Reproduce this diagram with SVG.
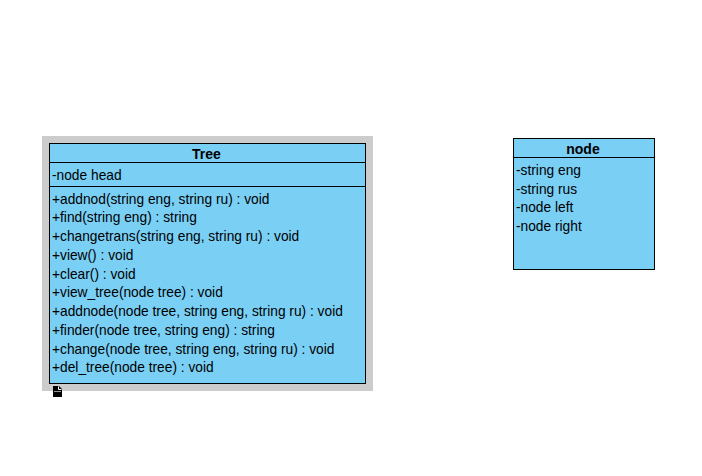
<svg xmlns="http://www.w3.org/2000/svg" width="702" height="476" viewBox="0 0 702 476">
<style>
.box{fill:#7ACFF5;stroke:#000;stroke-width:1}
.sep{stroke:#000;stroke-width:1}
text{font-family:"Liberation Sans",Arial,sans-serif;font-size:13.75px;fill:#000}
.title{font-weight:bold;text-anchor:middle;font-size:14px}
</style>
<rect width="702" height="476" fill="#fff"/>
<g id="Tree">
<rect x="42" y="136" width="331" height="255" fill="#CCCCCC"/>
<rect class="box" x="49.500" y="143.500" width="316" height="240"/>
<line class="sep" x1="49.500" y1="162.500" x2="365.500" y2="162.500"/>
<line class="sep" x1="49.500" y1="186.500" x2="365.500" y2="186.500"/>
<text class="title" x="206.500" y="159">Tree</text>
<text x="52" y="180">-node head</text>
<text x="52" y="204">+addnod(string eng, string ru) : void</text>
<text x="52" y="222">+find(string eng) : string</text>
<text x="52" y="241">+changetrans(string eng, string ru) : void</text>
<text x="52" y="260">+view() : void</text>
<text x="52" y="279">+clear() : void</text>
<text x="52" y="297">+view_tree(node tree) : void</text>
<text x="52" y="316">+addnode(node tree, string eng, string ru) : void</text>
<text x="52" y="335">+finder(node tree, string eng) : string</text>
<text x="52" y="354">+change(node tree, string eng, string ru) : void</text>
<text x="52" y="372">+del_tree(node tree) : void</text>
<path d="M53 386h6l3 3v8h-9z" fill="#000"/>
<path d="M58.500 386.500v3h3" fill="none" stroke="#fff" stroke-width="1"/>
<path d="M54 391.500h7" fill="none" stroke="#fff" stroke-width="0.600"/>
</g>
<g id="node">
<rect class="box" x="513.500" y="138.500" width="141" height="131"/>
<line class="sep" x1="513.500" y1="157.500" x2="654.500" y2="157.500"/>
<text class="title" x="583" y="154">node</text>
<text x="516" y="175">-string eng</text>
<text x="516" y="194">-string rus</text>
<text x="516" y="212">-node left</text>
<text x="516" y="231">-node right</text>
</g>
<g id="connectors"/>
</svg>
